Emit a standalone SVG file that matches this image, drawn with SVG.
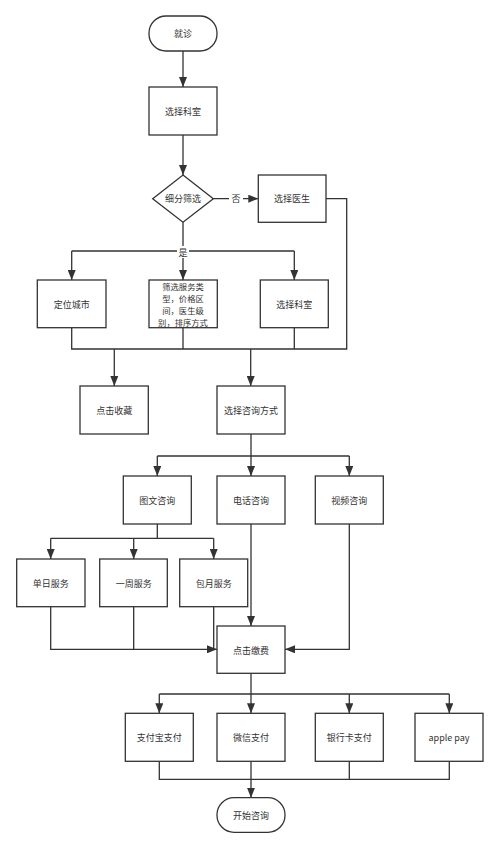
<svg xmlns="http://www.w3.org/2000/svg" width="500" height="849" viewBox="0 0 500 849">
<style>
.n{fill:#fff;stroke:#333;stroke-width:1.3}
.t{font-family:"Noto Sans CJK SC","Liberation Sans",sans-serif;font-size:9px;fill:#333;text-anchor:middle;dominant-baseline:central}
.s{font-size:8.3px}
.c{fill:none;stroke:#333;stroke-width:1.3}
.a{marker-end:url(#ah)}
</style>
<defs>
<marker id="ah" markerUnits="userSpaceOnUse" markerWidth="10" markerHeight="8" refX="10" refY="4" orient="auto">
<path d="M0,0 L10,4 L0,8 z" fill="#333"/>
</marker>
</defs>
<rect width="500" height="849" fill="#fff"/>
<g id="connectors">
<path class="c a" d="M183,51 V87"/>
<path class="c a" d="M183,135 V175"/>
<path class="c a" d="M213.3,198.7 H258.3"/>
<path class="c" d="M183,222.3 V251 M71.7,251 H294.3"/>
<path class="c a" d="M71.7,251 V280"/>
<path class="c a" d="M183,251 V280"/>
<path class="c a" d="M294.3,251 V280"/>
<path class="c" d="M326,198.7 H346.7 V349 H71.7 V327.7 M183,327.7 V349 M294.3,327.7 V349"/>
<path class="c a" d="M114.3,349 V386"/>
<path class="c a" d="M250.7,349 V386"/>
<path class="c" d="M251,434 V456 M157.3,456 H349.3"/>
<path class="c a" d="M157.3,456 V476"/>
<path class="c a" d="M251,456 V476"/>
<path class="c a" d="M349.3,456 V476"/>
<path class="c" d="M157.3,524 V538.3 M50.7,538.3 H213.7"/>
<path class="c a" d="M50.7,538.3 V559"/>
<path class="c a" d="M133.7,538.3 V559"/>
<path class="c a" d="M213.7,538.3 V559"/>
<path class="c a" d="M251,524 V626"/>
<path class="c a" d="M50.7,606.7 V649.3 H217"/>
<path class="c" d="M133.7,606.7 V649.3 M213.7,606.7 V649.3"/>
<path class="c a" d="M349.3,524 V649.3 H285"/>
<path class="c" d="M251,673.3 V694 M159.3,694 H449.3"/>
<path class="c a" d="M159.3,694 V713.3"/>
<path class="c a" d="M251,694 V713.3"/>
<path class="c a" d="M349.3,694 V713.3"/>
<path class="c a" d="M449.3,694 V713.3"/>
<path class="c" d="M159.3,761.3 V779.3 H449.3 V761.3 M349.3,761.3 V779.3"/>
<path class="c a" d="M251,761.3 V797.7"/>
</g>
<g id="labels">
<rect x="229" y="193" width="14" height="12" fill="#fff"/>
<text class="t" x="236" y="198.7">否</text>
<rect x="177" y="246" width="12" height="12" fill="#fff"/>
<text class="t" x="183" y="252">是</text>
</g>
<g id="n1"><rect class="n" x="149" y="16" width="68" height="35" rx="17" ry="17"/><text class="t" x="183" y="33.5">就诊</text></g>
<g id="n2"><rect class="n" x="149" y="87" width="68" height="48"/><text class="t" x="183" y="111">选择科室</text></g>
<g id="n3"><path class="n" d="M183,175 L213.3,198.7 L183,222.3 L152.7,198.7 Z"/><text class="t" x="183" y="198.7">细分筛选</text></g>
<g id="n4"><rect class="n" x="258.3" y="175" width="67.7" height="47.3"/><text class="t" x="292" y="198.7">选择医生</text></g>
<g id="n5"><rect class="n" x="37.3" y="280" width="68.7" height="47.7"/><text class="t" x="71.7" y="304">定位城市</text></g>
<g id="n6"><rect class="n" x="149" y="280" width="68.3" height="47.7"/>
<text class="t s" x="183" y="286">筛选服务类</text>
<text class="t s" x="183" y="298">型，价格区</text>
<text class="t s" x="183" y="310">间，医生级</text>
<text class="t s" x="183" y="322">别，排序方式</text></g>
<g id="n7"><rect class="n" x="260.3" y="280" width="68" height="47.7"/><text class="t" x="294.3" y="304">选择科室</text></g>
<g id="n8"><rect class="n" x="80" y="386" width="68.3" height="48"/><text class="t" x="114.3" y="410">点击收藏</text></g>
<g id="n9"><rect class="n" x="217" y="386" width="68" height="48"/><text class="t" x="251" y="410">选择咨询方式</text></g>
<g id="n10"><rect class="n" x="123.3" y="476" width="68" height="48"/><text class="t" x="157.3" y="500">图文咨询</text></g>
<g id="n11"><rect class="n" x="217" y="476" width="68" height="48"/><text class="t" x="251" y="500">电话咨询</text></g>
<g id="n12"><rect class="n" x="315.3" y="476" width="68" height="48"/><text class="t" x="349.3" y="500">视频咨询</text></g>
<g id="n13"><rect class="n" x="16.7" y="559" width="68.3" height="47.7"/><text class="t" x="50.7" y="583">单日服务</text></g>
<g id="n14"><rect class="n" x="99.7" y="559" width="67.6" height="47.7"/><text class="t" x="133.7" y="583">一周服务</text></g>
<g id="n15"><rect class="n" x="179.7" y="559" width="68" height="47.7"/><text class="t" x="213.7" y="583">包月服务</text></g>
<g id="n16"><rect class="n" x="217" y="626" width="68" height="47.3"/><text class="t" x="251" y="650">点击缴费</text></g>
<g id="n17"><rect class="n" x="125.3" y="713.3" width="68" height="48"/><text class="t" x="159.3" y="737.3">支付宝支付</text></g>
<g id="n18"><rect class="n" x="217" y="713.3" width="68" height="48"/><text class="t" x="251" y="737.3">微信支付</text></g>
<g id="n19"><rect class="n" x="315.3" y="713.3" width="68" height="48"/><text class="t" x="349.3" y="737.3">银行卡支付</text></g>
<g id="n20"><rect class="n" x="415" y="713.3" width="68" height="48"/><text class="t" x="449" y="737.3">apple pay</text></g>
<g id="n21"><rect class="n" x="217" y="797.7" width="68" height="34.6" rx="17" ry="17"/><text class="t" x="251" y="815">开始咨询</text></g>
</svg>
